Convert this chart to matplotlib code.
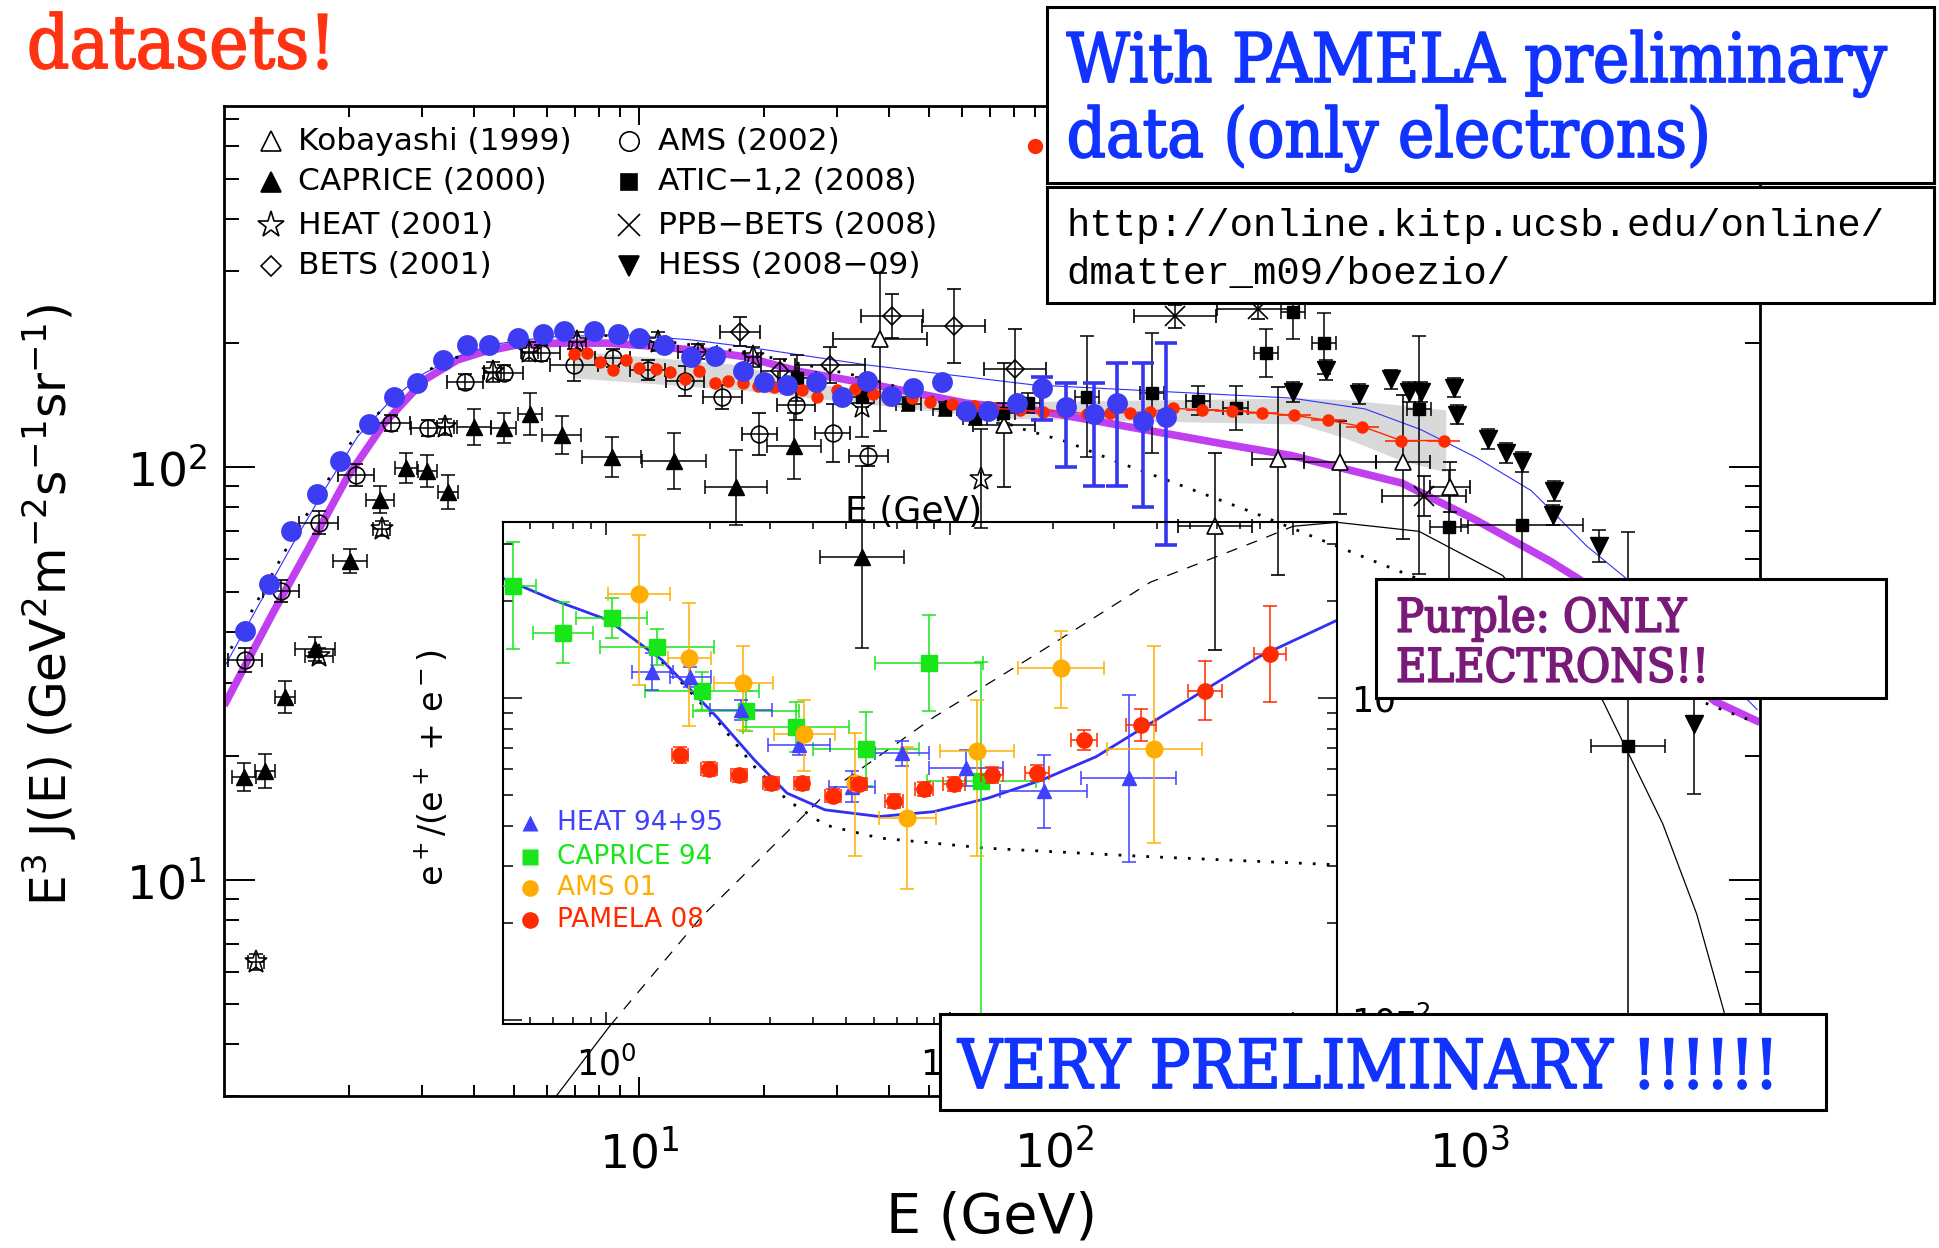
import numpy as np
import matplotlib.pyplot as plt
import matplotlib.patheffects as pe
from matplotlib.patches import Rectangle

plt.rcParams['font.family'] = ['DejaVu Sans']
plt.rcParams['mathtext.fontset'] = 'dejavusans'

# ---------------- main panel: E^3 J(E) ----------------
# error bars are given as half widths in decades (dex)
kob_x = [38.08, 75.7, 243.8, 345.8, 486.9, 691.3, 896.8]
kob_y = [204.6, 126.7, 72.2, 104.8, 103.2, 103.2, 89.7]
kob_xd = [0.113, 0.075, 0.089, 0.063, 0.087, 0.065, 0.048]
kob_ylo = [0.223, 0.151, 0.301, 0.282, 0.126, 0.187, 0.061]
kob_yhi = [0.160, 0.151, 0.177, 0.175, 0.100, 0.163, 0.061]

cap_x = [1.122, 1.259, 1.408, 1.661, 2.016, 2.385, 2.750, 3.098, 3.475, 4.000, 4.722, 5.466, 6.512, 8.593, 12.12, 17.10, 23.69, 34.41]
cap_y = [17.8, 18.4, 27.8, 36.3, 59.3, 83.6, 99.8, 97.9, 87.2, 125.5, 124.4, 134.7, 119.8, 106.1, 103.6, 89.4, 112.9, 60.7]
cap_xd = [0.029, 0.024, 0.024, 0.048, 0.041, 0.034, 0.026, 0.024, 0.024, 0.041, 0.031, 0.029, 0.048, 0.072, 0.077, 0.075, 0.065, 0.101]
cap_yd = [0.034, 0.041, 0.039, 0.029, 0.029, 0.032, 0.036, 0.039, 0.041, 0.044, 0.036, 0.051, 0.046, 0.049, 0.068, 0.092, 0.080, 0.221]

heat_x = [1.197, 1.70, 2.401, 3.418, 4.443, 5.445, 7.115, 11.09, 18.81, 34.41, 66.55]
heat_y = [6.33, 35.0, 71.1, 125.5, 170.7, 190.9, 201.9, 201.9, 185.6, 140.4, 94.0]
heat_xd = [0.02, 0.034, 0.02, 0.02, 0.02, 0.02, 0.02, 0.02, 0.02, 0.0, 0.0]
heat_yd = [0.019, 0.019, 0.019, 0.019, 0.024, 0.024, 0.024, 0.024, 0.024, 0.073, 0.119]

bets_x = [13.84, 17.53, 21.88, 28.87, 40.63, 57.2, 80.5]
bets_y = [190.9, 213.5, 171.7, 177.2, 233.1, 220.4, 173.3]
bets_xd = [0.046, 0.048, 0.046, 0.084, 0.075, 0.075, 0.075]
bets_yd = [0.019, 0.034, 0.029, 0.044, 0.053, 0.090, 0.097]

ams_x = [1.126, 1.375, 1.694, 2.084, 2.530, 3.111, 3.813, 4.722, 5.808, 6.99, 8.64, 10.49, 12.93, 15.89, 19.51, 23.88, 29.25, 35.69]
ams_y = [34.2, 50.1, 73.5, 95.8, 127.9, 124.4, 161.4, 169.8, 189.2, 177.2, 184.0, 172.3, 162.3, 147.9, 120.5, 141.7, 121.3, 106.5]
ams_xd = [0.041, 0.043, 0.046, 0.043, 0.046, 0.041, 0.043, 0.048, 0.046, 0.058, 0.043, 0.043, 0.046, 0.046, 0.043, 0.046, 0.043, 0.046]
ams_yd = [0.029, 0.027, 0.027, 0.027, 0.019, 0.019, 0.019, 0.019, 0.019, 0.039, 0.022, 0.024, 0.036, 0.029, 0.051, 0.036, 0.070, 0.024]

atic_x = [24.0, 34.52, 44.56, 54.6, 64.5, 75.4, 86.6, 119.7, 171.7, 222.3, 273.1, 323.7, 375.3, 446.8, 753.5, 893.2, 1338, 2409]
atic_y = [164.5, 148.4, 142.5, 138.3, 131.5, 135.3, 143.0, 148.4, 151.3, 145.2, 139.1, 189.7, 238.1, 199.8, 138.5, 71.7, 72.5, 21.1]
atic_xd = [0.046, 0.029, 0.029, 0.029, 0.029, 0.029, 0.029, 0.029, 0.029, 0.029, 0.029, 0.029, 0.029, 0.029, 0.029, 0.046, 0.147, 0.089]
atic_ylo = [0.056, 0.024, 0.017, 0.017, 0.017, 0.024, 0.024, 0.146, 0.146, 0.036, 0.053, 0.058, 0.066, 0.073, 0.40, 0.138, 0.17, 0.85]
atic_yhi = [0.056, 0.024, 0.017, 0.017, 0.017, 0.024, 0.024, 0.146, 0.146, 0.036, 0.053, 0.058, 0.066, 0.073, 0.177, 0.138, 0.17, 0.52]

ppb_x = [195.3, 309.0, 777.0]
ppb_y = [232.2, 242.1, 85.2]
ppb_xd = [0.099, 0.099, 0.101]
ppb_yd = [0.029, 0.024, 0.049]

hess_x = [375.3, 451.2, 542.6, 646.1, 712.8, 764.1, 919.1, 934.5, 1108, 1220, 1338, 1586, 1599, 2050, 3472]
hess_y = [152.0, 172.2, 150.4, 163.4, 152.0, 152.0, 156.2, 134.3, 117.3, 108.5, 103.2, 76.8, 87.8, 64.4, 23.9]
hess_yd = [0.024, 0.024, 0.024, 0.024, 0.024, 0.024, 0.024, 0.024, 0.024, 0.024, 0.024, 0.024, 0.024, 0.039, 0.17]

# blue filled circles
blue_x = [1.126, 1.284, 1.454, 1.679, 1.910, 2.235, 2.577, 2.922, 3.381, 3.847, 4.363, 5.104, 5.886, 6.610, 7.806, 8.882, 9.98, 11.5, 13.34, 15.26,
          17.85, 20.03, 22.79, 26.67, 30.8, 35.5, 40.4, 45.8, 53.8, 61.2, 69.4, 81.2, 93.6, 106.6, 124.7, 141.4, 163.3, 185.5]
blue_y = [40.1, 52.3, 70.2, 86.1, 103.6, 127.4, 147.9, 160.5, 182.2, 197.8, 197.8, 205.7, 210.4, 214.7, 214.7, 210.4, 206.4, 198.2, 185.6, 186.3,
          171.7, 160.9, 158.5, 161.4, 148.4, 162.0, 148.9, 155.6, 161.4, 137.2, 136.9, 143.0, 156.1, 140.4, 134.7, 143.5, 129.5, 132.7]
blue_err_x = [93.6, 106.6, 124.7, 141.4, 163.3, 185.5]
blue_err_y = [156.1, 140.4, 134.7, 143.5, 129.5, 132.7]
blue_err_lo = [130.2, 100.0, 90.1, 90.1, 80.0, 65.0]
blue_err_hi = [166.0, 160.0, 160.0, 179.5, 179.5, 200.1]

# red PAMELA electrons + systematic band
pam_x = [6.99, 7.52, 8.07, 8.64, 9.31, 10.02, 10.99, 11.89, 12.93, 13.97, 15.26, 16.43, 17.85, 19.40, 21.17, 22.79, 24.68, 26.82, 29.96, 33.16,
         36.69, 40.26, 45.39, 50.24, 56.65, 64.12, 71.37, 82.75, 94.14, 105.2, 119.7, 136.2, 152.2, 170.1, 193.5,
         227.1, 267.6, 316.5, 377.6, 456.0, 551.9, 684.0, 866.4]
pam_y = [188.2, 189.2, 180.5, 172.3, 182.2, 174.6, 173.4, 170.7, 163.6, 171.4, 160.5, 162.0, 160.5, 157.6, 156.4, 154.7, 154.1, 148.4, 154.1, 154.7,
         150.4, 148.4, 147.1, 144.3, 142.5, 140.9, 139.1, 137.8, 136.5, 137.2, 134.7, 135.7, 135.7, 136.5, 139.1,
         137.9, 137.1, 135.7, 133.7, 130.1, 125.6, 116.2, 116.2]
band_x = [6.99, 17.6, 24.5, 74.1, 170, 390, 500, 680, 876]
band_lo = [164.8, 154.1, 148.3, 131.7, 129.5, 127.4, 118.0, 104.2, 97.4]
band_hi = [191.7, 177.3, 160.3, 144.1, 145.7, 147.3, 146.0, 141.7, 137.8]

# model curves
purple_x = [1.004, 1.122, 1.325, 1.594, 1.989, 2.438, 3.043, 3.660, 4.243, 5.104, 6.370, 8.404, 11.09, 14.63, 17.92, 24.45, 35.38, 61.6,
            89.1, 128.9, 250.6, 371.4, 687.1, 1036, 1561, 1839, 3894, 4996]
purple_y = [26.5, 32.8, 45.0, 63.0, 94.9, 127.9, 162.9, 182.2, 190.9, 198.2, 200.1, 200.1, 196.3, 190.9, 185.6, 170.7, 159.9, 143.0,
            137.8, 129.1, 114.4, 106.9, 91.6, 74.5, 59.3, 53.5, 27.1, 24.1]
thin_x = [1.004, 1.208, 1.454, 1.748, 2.102, 2.530, 3.043, 3.660, 4.404, 5.297, 6.370, 9.218, 13.34, 17.92, 35.38, 89.1, 200.8, 371.4,
          559.8, 761.5, 1035, 1408, 1916, 2399, 4920]
thin_y = [32.8, 45.9, 64.1, 88.1, 118.7, 145.7, 169.2, 185.6, 198.2, 203.8, 207.6, 209.6, 203.8, 196.3, 177.2, 158.5, 152.0, 147.3,
          138.6, 123.6, 105.8, 87.8, 64.4, 53.5, 25.9]
dot_x = [1.004, 1.454, 2.102, 3.043, 4.404, 6.370, 9.218, 17.92, 35.38, 61.6, 82.75, 107.2, 141.4, 186.6, 302.6, 456, 755, 3842, 4833]
dot_y = [34.0, 66.6, 121.8, 170.4, 201.5, 209.6, 208.4, 190.5, 164.9, 139.3, 124.4, 115.4, 103.2, 93.2, 77.6, 65.7, 53.6, 26.4, 24.2]

# overlaid theory curve (thin black)
th_low_x = [6.254, 8.53]
th_low_y = [2.95, 4.44]
th_dash_x = [8.53, 14.08, 28.11, 51.25, 93.5, 170.4, 310.8, 375.6]
th_dash_y = [4.44, 8.10, 16.15, 24.8, 36.0, 52.7, 66.6, 72.0]
th_high_x = [375.6, 479.7, 755, 1201, 2091, 2915, 3520, 4111, 4593]
th_high_y = [72.0, 73.6, 70.0, 54.7, 27.2, 13.7, 8.27, 4.73, 2.95]

main_labels = ['Kobayashi (1999)', 'CAPRICE (2000)', 'HEAT (2001)', 'BETS (2001)',
               'AMS (2002)', 'ATIC\u22121,2 (2008)', 'PPB\u2212BETS (2008)', 'HESS (2008\u221209)']

# ---------------- inset: positron fraction ----------------
ipam_x = [1.638, 1.994, 2.436, 3.007, 3.70, 4.568, 5.441, 6.896, 8.387, 10.28, 13.27, 17.88, 24.54, 35.97, 55.25, 85.5]
ipam_y = [0.0665, 0.0601, 0.0574, 0.0543, 0.0543, 0.0496, 0.0540, 0.0477, 0.0522, 0.0540, 0.0577, 0.0584, 0.0741, 0.0824, 0.1054, 0.1367]
ipam_xd = [0.023, 0.023, 0.023, 0.023, 0.023, 0.023, 0.023, 0.026, 0.026, 0.032, 0.032, 0.035, 0.038, 0.044, 0.05, 0.047]
ipam_yd = [0.025, 0.022, 0.02, 0.02, 0.02, 0.02, 0.02, 0.022, 0.022, 0.022, 0.025, 0.025, 0.031, 0.05, 0.093, 0.149]

iheat_x = [1.360, 1.755, 2.462, 3.646, 5.191, 7.255, 11.14, 18.74, 33.19]
iheat_y = [0.1207, 0.1164, 0.0918, 0.0714, 0.0530, 0.0673, 0.0605, 0.0512, 0.0563]
iheat_xd = [0.06, 0.06, 0.09, 0.09, 0.066, 0.079, 0.107, 0.126, 0.138]
iheat_yd = [0.057, 0.031, 0.03, 0.03, 0.048, 0.039, 0.057, 0.113, 0.26]

icap_x = [0.534, 0.746, 1.036, 1.401, 1.895, 2.553, 3.568, 5.686, 8.706, 12.34]
icap_y = [0.2228, 0.1595, 0.1768, 0.1438, 0.1051, 0.0911, 0.0811, 0.0693, 0.1282, 0.0550]
icap_xd = [0.067, 0.087, 0.103, 0.166, 0.166, 0.154, 0.154, 0.154, 0.158, 0.158]
icap_ylo = [0.197, 0.095, 0.062, 0.057, 0.06, 0.062, 0.078, 0.114, 0.15, 2.0]
icap_yhi = [0.137, 0.095, 0.062, 0.057, 0.06, 0.062, 0.078, 0.114, 0.15, 0.37]

iams_x = [1.246, 1.742, 2.507, 3.769, 5.28, 7.522, 11.98, 21.07, 39.39]
iams_y = [0.2104, 0.1328, 0.1111, 0.0772, 0.0543, 0.0423, 0.0684, 0.1237, 0.0693]
iams_xd = [0.09, 0.063, 0.087, 0.088, 0.0, 0.083, 0.107, 0.126, 0.138]
iams_ylo = [0.283, 0.211, 0.145, 0.116, 0.226, 0.221, 0.326, 0.124, 0.292]
iams_yhi = [0.183, 0.171, 0.116, 0.107, 0.157, 0.222, 0.158, 0.117, 0.319]

icurve_x = [0.488, 0.702, 1.009, 1.452, 2.090, 2.696, 3.356, 4.327, 6.228, 8.961, 12.89, 18.54, 26.69, 38.39, 55.25, 79.5, 134.7]
icurve_y = [0.2380, 0.2015, 0.1747, 0.1312, 0.0875, 0.0642, 0.0506, 0.0449, 0.0428, 0.0443, 0.0488, 0.0556, 0.0657, 0.0834, 0.1059, 0.1343, 0.1747]
isec_x = [1.452, 2.090, 2.696, 3.356, 4.327, 6.228, 12.89, 38.39, 134.7]
isec_y = [0.1296, 0.0855, 0.0612, 0.0482, 0.0403, 0.0367, 0.0341, 0.0321, 0.0303]

inset_labels = ['HEAT 94+95', 'CAPRICE 94', 'AMS 01', 'PAMELA 08']


def dex_err(v, lo, hi=None):
    v = np.asarray(v, float)
    lo = np.asarray(lo, float)
    hi = lo if hi is None else np.asarray(hi, float)
    return np.vstack([v * (1 - 10.0 ** -lo), v * (10.0 ** hi - 1)])


def pts(a, x, y, xd, ylo, yhi=None, color='k', **kw):
    a.errorbar(x, y, xerr=dex_err(x, xd), yerr=dex_err(y, ylo, yhi), linestyle='none',
               ecolor=color, mec=color, elinewidth=1.1, capsize=5, capthick=1.1, **kw)


fig = plt.figure(figsize=(19.39, 12.48), dpi=100)
ax = fig.add_axes([0.11527, 0.12203, 0.79242, 0.79271])
ax.set_xscale('log')
ax.set_yscale('log')
ax.set_xlim(1, 5000)
ax.set_ylim(3, 750)

ax.fill_between(band_x, band_lo, band_hi, color='#d9d9d9', lw=0, zorder=1)
ax.plot(purple_x, purple_y, color='#c040f0', lw=5.5, zorder=2, solid_capstyle='butt')
ax.plot(thin_x, thin_y, color='#3030ff', lw=0.8, zorder=2)
ax.plot(dot_x, dot_y, color='k', lw=2, ls=(0, (1, 4)), zorder=2)
ax.plot(th_low_x, th_low_y, color='k', lw=0.9)
ax.plot(th_dash_x, th_dash_y, color='k', lw=0.9, ls=(0, (9, 8)))
ax.plot(th_high_x, th_high_y, color='k', lw=0.9)

pts(ax, kob_x, kob_y, kob_xd, kob_ylo, kob_yhi, fmt='^', ms=12, mfc='white', mew=1.2, zorder=3)
pts(ax, cap_x, cap_y, cap_xd, cap_yd, fmt='^', ms=11, mfc='k', zorder=3)
pts(ax, heat_x, heat_y, heat_xd, heat_yd, fmt='*', ms=17, mfc='none', mew=1.1, zorder=3)
pts(ax, bets_x, bets_y, bets_xd, bets_yd, fmt='D', ms=9, mfc='none', mew=1.2, zorder=3)
pts(ax, ams_x, ams_y, ams_xd, ams_yd, fmt='o', ms=12, mfc='none', mew=1.2, zorder=3)
pts(ax, atic_x, atic_y, atic_xd, atic_ylo, atic_yhi, fmt='s', ms=9, mfc='k', zorder=3)
pts(ax, ppb_x, ppb_y, ppb_xd, ppb_yd, fmt='x', ms=15, mew=1.2, zorder=3)
pts(ax, hess_x, hess_y, [0] * len(hess_x), hess_yd, fmt='v', ms=13, mfc='k', zorder=3)

ax.plot(pam_x[24:], pam_y[24:], color='#ff2a00', lw=1, zorder=4)
ax.errorbar(pam_x[35:], pam_y[35:], xerr=dex_err(pam_x[35:], [0.04] * 8), fmt='none', ecolor='#ff2a00', elinewidth=1.2, zorder=4)
ax.plot(pam_x, pam_y, 'o', color='#ff2a00', ms=9, mec='none', zorder=4)

ax.errorbar(blue_err_x, blue_err_y,
            yerr=[np.subtract(blue_err_y, blue_err_lo), np.subtract(blue_err_hi, blue_err_y)],
            fmt='none', ecolor='#3636f0', elinewidth=2.6, capsize=8, capthick=2.6, zorder=5)
ax.plot(blue_x, blue_y, 'o', color='#3c3cf2', ms=15, mec='none', zorder=5)

ax.set_xticks([10, 100, 1000])
ax.tick_params(which='both', direction='in', top=True, right=True, width=1.4, labelsize=34)
ax.tick_params(axis='x', which='major', length=14, pad=25)
ax.tick_params(axis='x', which='minor', length=8)
ax.tick_params(axis='y', which='major', length=22, pad=12)
ax.tick_params(axis='y', which='minor', length=11)
for s in ax.spines.values():
    s.set_linewidth(2)

ax.set_xlabel('E (GeV)', fontsize=40, va='center')
ax.xaxis.set_label_coords(0.5, -0.1236)
ax.set_ylabel(r'E$^3$ J(E) (GeV$^2$m$^{-2}$s$^{-1}$sr$^{-1}$)', fontsize=35, va='center')
ax.yaxis.set_label_coords(-0.113, 0.496)

# legend keys of the main panel
leg_styles = [dict(marker='^', mfc='white'), dict(marker='^', mfc='k'), dict(marker='*', mfc='white', ms=20),
              dict(marker='D', mfc='white', ms=10), dict(marker='o', mfc='white'), dict(marker='s', mfc='k', ms=12),
              dict(marker='x', ms=16), dict(marker='v', mfc='k')]
leg_cols = [(0.0309, 0.0485), (0.2642, 0.2825)]
leg_rows = [0.965, 0.9236, 0.880, 0.8387]
for i, (lab, st) in enumerate(zip(main_labels, leg_styles)):
    mx, tx = leg_cols[i // 4]
    ry = leg_rows[i % 4]
    kw = dict(ms=14, mec='k', color='k', mew=1.2)
    kw.update(st)
    ax.plot([mx], [ry], transform=ax.transAxes, clip_on=False, zorder=6, **kw)
    ax.text(tx, ry, lab, transform=ax.transAxes, fontsize=22.5, va='center', ha='left')
ax.plot([0.5282], [0.960], 'o', color='#ff2a00', ms=11, mec='none', transform=ax.transAxes, clip_on=False, zorder=6)

# ---------------- inset ----------------
ins = fig.add_axes([0.25941, 0.17949, 0.43012, 0.40224])
ins.set_facecolor('none')
ins.set_xscale('log')
ins.set_yscale('log')
ins.set_xlim(0.5, 134)
ins.set_ylim(0.0097, 0.352)

ins.plot(isec_x, isec_y, color='k', lw=2, ls=(0, (1, 4)))
ins.plot(icurve_x, icurve_y, color='#2f2ff5', lw=2)
pts(ins, icap_x, icap_y, icap_xd, icap_ylo, icap_yhi, color='#19e619', fmt='s', ms=11, mfc='#19e619', zorder=3)
pts(ins, iheat_x, iheat_y, iheat_xd, iheat_yd, color='#4040ff', fmt='^', ms=10, mfc='#4040ff', zorder=3)
pts(ins, iams_x, iams_y, iams_xd, iams_ylo, iams_yhi, color='#ffad00', fmt='o', ms=12, mfc='#ffad00', zorder=3)
pts(ins, ipam_x, ipam_y, ipam_xd, ipam_yd, color='#ff2a00', fmt='o', ms=11, mfc='#ff2a00', zorder=4)

ins.set_xticks([1, 10, 100])
ins.set_yticks([0.01, 0.1])
ins.tick_params(which='both', direction='in', top=True, right=True, width=1.1, labelsize=25,
                labelleft=False, labelright=True)
ins.tick_params(axis='x', which='major', length=9, pad=16)
ins.tick_params(axis='x', which='minor', length=5)
ins.tick_params(axis='y', which='major', length=14, pad=10)
ins.tick_params(axis='y', which='minor', length=7)
for s in ins.spines.values():
    s.set_linewidth(1.5)
ins.set_ylabel(r'e$^+$/(e$^+$ + e$^-$)', fontsize=24, va='center')
ins.yaxis.set_label_position('left')
ins.yaxis.set_label_coords(-0.0624, 0.512)

ileg = [('^', '#4040ff'), ('s', '#19e619'), ('o', '#ffad00'), ('o', '#ff2a00')]
for lab, (mk, c), ry in zip(inset_labels, ileg, [0.40, 0.333, 0.271, 0.207]):
    ins.plot([0.032], [ry], marker=mk, color=c, ms=12, mec='none', transform=ins.transAxes)
    ins.text(0.0646, ry, lab, color=c, fontsize=19, va='center', transform=ins.transAxes)

fig.text(0.4714, 0.5897, 'E (GeV)', fontsize=26, ha='center', va='center')

# ---------------- slide annotations ----------------
serif = ['DejaVu Serif', 'Liberation Serif']
renderer = fig.canvas.get_renderer()


def fit(texts, width_px):
    # scale the font so that the first text has the width it has on the slide
    w = texts[0].get_window_extent(renderer).width
    for t in texts:
        t.set_fontsize(t.get_fontsize() * width_px / w)


def heavy(t, c):
    t.set_path_effects([pe.withStroke(linewidth=1.3, foreground=c)])


def box(x0, y0, w, h):
    fig.add_artist(Rectangle((x0, y0), w, h, transform=fig.transFigure, fc='white', ec='black', lw=2.2, zorder=10))


t = fig.text(0.0139, 0.9455, 'datasets!', fontsize=50, family=serif, stretch='condensed', color='#ff3311', va='baseline')
fit([t], 309)
heavy(t, '#ff3311')

box(0.54, 0.85337, 0.4574, 0.14102)
t1 = fig.text(0.5501, 0.93429, 'With PAMELA preliminary', fontsize=40, family=serif, stretch='condensed',
              color='#1133ff', va='baseline', zorder=11)
t2 = fig.text(0.5501, 0.8742, 'data (only electrons)', fontsize=40, family=serif, stretch='condensed',
              color='#1133ff', va='baseline', zorder=11)
fit([t1, t2], 820)
heavy(t1, '#1133ff')
heavy(t2, '#1133ff')

box(0.54, 0.75721, 0.4574, 0.09255)
mono = ['Liberation Mono', 'DejaVu Sans Mono']
fig.text(0.5501, 0.8109, 'http://online.kitp.ucsb.edu/online/', fontsize=28, family=mono, va='baseline', zorder=11)
fig.text(0.5501, 0.77244, 'dmatter_m09/boezio/', fontsize=28, family=mono, va='baseline', zorder=11)

box(0.70964, 0.44046, 0.26302, 0.09536)
p2 = fig.text(0.71996, 0.45377, 'ELECTRONS!!', fontsize=30, family=serif, stretch='condensed',
              color='#7a1a78', va='baseline', zorder=11)
p1 = fig.text(0.71996, 0.49383, 'Purple: ONLY', fontsize=30, family=serif, stretch='condensed',
              color='#7a1a78', va='baseline', zorder=11)
fit([p2, p1], 313)
heavy(p1, '#7a1a78')
heavy(p2, '#7a1a78')

box(0.48479, 0.11058, 0.45693, 0.07708)
v = fig.text(0.49407, 0.12821, 'VERY PRELIMINARY !!!!!!', fontsize=40, family=serif, stretch='condensed',
             color='#1133ff', va='baseline', zorder=11)
fit([v], 820)
heavy(v, '#1133ff')

fig.savefig('out.png', dpi=100)
